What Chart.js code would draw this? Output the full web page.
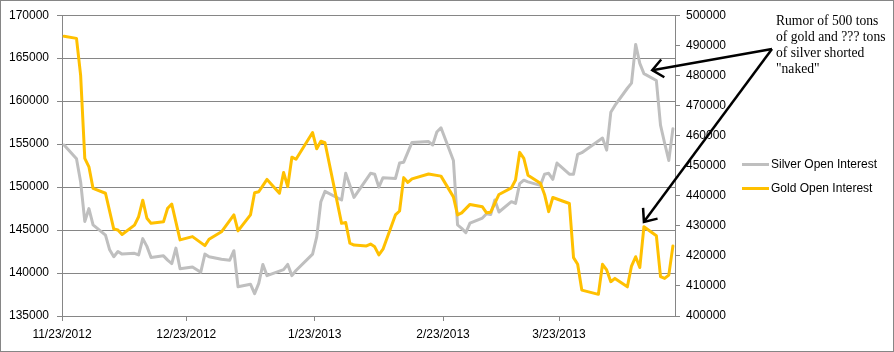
<!DOCTYPE html>
<html><head><meta charset="utf-8">
<script src="https://cdn.jsdelivr.net/npm/chart.js@4/dist/chart.umd.min.js"></script>
<style>
html,body{margin:0;padding:0;background:#fff;}
#wrap{position:relative;width:894px;height:352px;overflow:hidden;}
#frame{position:absolute;left:0;top:0;width:892px;height:350px;border:1px solid #868686;pointer-events:none;}
#chart{position:absolute;left:0;top:0;}
.note{position:absolute;left:776px;top:13px;font-family:'Liberation Serif','Times New Roman',serif;font-size:13.6px;line-height:16px;color:#000;white-space:nowrap;}
.leg{position:absolute;left:771px;font-family:'Liberation Sans',Arial,sans-serif;font-size:12px;line-height:14px;color:#000;white-space:nowrap;}
.leg i{position:absolute;left:-29px;top:6px;width:27px;height:3px;}
</style></head>
<body>
<div id="wrap">
<canvas id="chart" width="894" height="352"></canvas>
<div class="note">Rumor of 500 tons<br>of gold and ??? tons<br>of silver shorted<br>"naked"</div>
<div class="leg" style="top:157px"><i style="background:#BFBFBF"></i>Silver Open Interest</div>
<div class="leg" style="top:181px"><i style="background:#FFC000"></i>Gold Open Interest</div>
<div id="frame"></div>
</div>
<script>
const axisStart = '2012-11-23';
const axisEnd = '2013-04-20';
const tickDates = ['2012-11-23','2012-12-23','2013-01-23','2013-02-23','2013-03-23'];
const leftTicks = {min:135000, max:170000, step:5000};
const rightTicks = {min:400000, max:500000, step:10000};

const silverDates = ['2012-11-23','2012-11-26','2012-11-27','2012-11-28','2012-11-29','2012-11-30',
'2012-12-03','2012-12-04','2012-12-05','2012-12-06','2012-12-07','2012-12-10','2012-12-11','2012-12-12','2012-12-13','2012-12-14','2012-12-17','2012-12-18','2012-12-19','2012-12-20','2012-12-21','2012-12-24','2012-12-26','2012-12-27','2012-12-28','2012-12-31',
'2013-01-02','2013-01-03','2013-01-04','2013-01-07','2013-01-08','2013-01-09','2013-01-10','2013-01-11','2013-01-15','2013-01-16','2013-01-17','2013-01-18','2013-01-22','2013-01-23','2013-01-24','2013-01-25','2013-01-29','2013-01-30',
'2013-02-01','2013-02-05','2013-02-06','2013-02-07','2013-02-08','2013-02-11','2013-02-12','2013-02-13','2013-02-15','2013-02-19','2013-02-20','2013-02-21','2013-02-22','2013-02-25','2013-02-26','2013-02-27','2013-02-28',
'2013-03-01','2013-03-04','2013-03-05','2013-03-06','2013-03-07','2013-03-08','2013-03-11','2013-03-12','2013-03-13','2013-03-14','2013-03-15','2013-03-18','2013-03-19','2013-03-20','2013-03-21','2013-03-22','2013-03-25','2013-03-26','2013-03-27','2013-03-28',
'2013-04-02','2013-04-03','2013-04-04','2013-04-05','2013-04-08','2013-04-09','2013-04-10','2013-04-11','2013-04-12','2013-04-15','2013-04-16','2013-04-17','2013-04-18','2013-04-19'];
const silverOI = [154900,153300,150600,146000,147500,145600,
144400,142700,141900,142500,142200,142300,142100,144000,143100,141800,142000,141500,141100,142900,140500,140700,140100,142200,141900,141600,
141500,142600,138400,138700,137600,138800,141000,139700,140400,141000,139700,140300,142200,144200,148300,149500,148500,151600,
148800,151600,151500,150000,151100,151000,152800,152900,155200,155300,154900,156400,156900,153100,145600,145200,144700,
145800,146400,146900,146800,148500,147100,148300,148100,150400,150800,150600,150200,151500,151600,150900,152800,151500,151500,153800,154000,
155700,154300,158700,159500,161500,162100,166600,164400,163200,162400,157200,155100,153100,156800];

const goldDates = ['2012-11-23','2012-11-26','2012-11-27','2012-11-28','2012-11-29','2012-11-30',
'2012-12-03','2012-12-05','2012-12-06','2012-12-07','2012-12-10','2012-12-11','2012-12-12','2012-12-13','2012-12-14','2012-12-17','2012-12-18','2012-12-19','2012-12-21','2012-12-24','2012-12-27','2012-12-28','2012-12-31',
'2013-01-03','2013-01-04','2013-01-07','2013-01-08','2013-01-09','2013-01-11','2013-01-14','2013-01-15','2013-01-16','2013-01-17','2013-01-18','2013-01-22','2013-01-23','2013-01-24','2013-01-25','2013-01-29','2013-01-30','2013-01-31',
'2013-02-01','2013-02-04','2013-02-05','2013-02-06','2013-02-07','2013-02-08','2013-02-11','2013-02-12','2013-02-13','2013-02-14','2013-02-15','2013-02-19','2013-02-22','2013-02-25','2013-02-26','2013-02-27',
'2013-03-01','2013-03-04','2013-03-05','2013-03-06','2013-03-08','2013-03-11','2013-03-12','2013-03-13','2013-03-14','2013-03-15','2013-03-18','2013-03-19','2013-03-20','2013-03-21','2013-03-25','2013-03-26','2013-03-27','2013-03-28',
'2013-04-01','2013-04-02','2013-04-03','2013-04-04','2013-04-05','2013-04-08','2013-04-09','2013-04-10','2013-04-11','2013-04-12','2013-04-15','2013-04-16','2013-04-17','2013-04-18','2013-04-19'];
const goldOI = [493000,492300,480000,452400,449600,442400,
440800,428900,428600,427100,430200,433000,438500,432500,430800,431300,435800,437200,425300,426400,423400,425500,428000,
433600,428300,433600,441000,441300,445400,440800,447700,443000,452800,452100,461000,455600,458100,457600,430800,431100,424200,
423600,423300,423900,423000,420300,422200,433600,434900,446000,444400,445600,447200,446500,439600,433600,434300,
437100,436300,434300,434500,440400,442600,445200,454400,452400,446800,444100,440400,434700,439400,437400,419400,417200,408600,
407200,417200,415300,411400,412500,409700,416600,419700,416100,429700,426700,413100,412500,413600,423300];

// annotation arrow targets
const arrowSilver = {date:'2013-04-14', value:163600};
const arrowGold = {date:'2013-04-12', value:431300};

const DAY = 86400000;
function utc(s){const p=s.split('-').map(Number);return Date.UTC(p[0],p[1]-1,p[2]);}
const t0 = utc(axisStart);
function dayOf(s){return (utc(s)-t0)/DAY;}
function fmt(v){const d=new Date(t0+Math.round(v)*DAY);return (d.getUTCMonth()+1)+'/'+d.getUTCDate()+'/'+d.getUTCFullYear();}
const pts = (dates, vals) => dates.map((d,i)=>({x:dayOf(d)+0.5, y:vals[i]}));

const GRID = '#868686';
const font = {family:"'Liberation Sans', Arial, sans-serif", size:12};

const arrowPlugin = {
  id:'arrows',
  afterDraw(chart){
    const {ctx, scales} = chart;
    const sx = 772, sy = 49;
    const tips = [
      [scales.x.getPixelForValue(dayOf(arrowSilver.date)+0.5), scales.y.getPixelForValue(arrowSilver.value)],
      [scales.x.getPixelForValue(dayOf(arrowGold.date)+0.5), scales.y1.getPixelForValue(arrowGold.value)]
    ];
    ctx.save();
    ctx.strokeStyle = '#000'; ctx.lineWidth = 2.5; ctx.lineCap = 'butt'; ctx.lineJoin='miter';
    tips.forEach(([tx,ty])=>{
      ctx.beginPath(); ctx.moveTo(sx,sy); ctx.lineTo(tx,ty); ctx.stroke();
      const a = Math.atan2(sy-ty, sx-tx), L=14, w=0.7;
      ctx.beginPath();
      ctx.moveTo(tx+L*Math.cos(a-w), ty+L*Math.sin(a-w));
      ctx.lineTo(tx,ty);
      ctx.lineTo(tx+L*Math.cos(a+w), ty+L*Math.sin(a+w));
      ctx.stroke();
    });
    ctx.restore();
  }
};

new Chart(document.getElementById('chart'), {
  type:'line',
  data:{datasets:[
    {label:'Silver Open Interest', data:pts(silverDates, silverOI), yAxisID:'y', borderColor:'#BFBFBF', borderWidth:3, pointRadius:0, tension:0, order:1, borderJoinStyle:'round', borderCapStyle:'round'},
    {label:'Gold Open Interest', data:pts(goldDates, goldOI), yAxisID:'y1', borderColor:'#FFC000', borderWidth:3, pointRadius:0, tension:0, order:0, borderJoinStyle:'round', borderCapStyle:'round'}
  ]},
  options:{
    responsive:false, animation:false, events:[],
    layout:{padding:{top:15,left:0,right:0,bottom:0}},
    plugins:{legend:{display:false}, tooltip:{enabled:false}},
    scales:{
      x:{type:'linear', min:0, max:dayOf(axisEnd),
        afterBuildTicks(s){s.ticks = tickDates.map(d=>({value:dayOf(d)}));},
        afterFit(s){s.height=36;},
        ticks:{autoSkip:false, maxRotation:0, color:'#000', font, padding:6, callback:(v)=>fmt(v)},
        grid:{drawOnChartArea:false, drawTicks:true, tickLength:5, color:GRID},
        border:{color:GRID}},
      y:{position:'left', min:leftTicks.min, max:leftTicks.max,
        afterFit(s){s.width=62;},
        ticks:{stepSize:leftTicks.step, color:'#000', font, padding:8, callback:(v)=>String(v)},
        grid:{color:GRID, tickLength:5}, border:{color:GRID}},
      y1:{position:'right', min:rightTicks.min, max:rightTicks.max,
        afterFit(s){s.width=219;},
        ticks:{stepSize:rightTicks.step, color:'#000', font, padding:6, callback:(v)=>String(v)},
        grid:{drawOnChartArea:false, tickLength:5, color:GRID}, border:{color:GRID}}
    }
  },
  plugins:[arrowPlugin]
});
</script>
</body></html>
